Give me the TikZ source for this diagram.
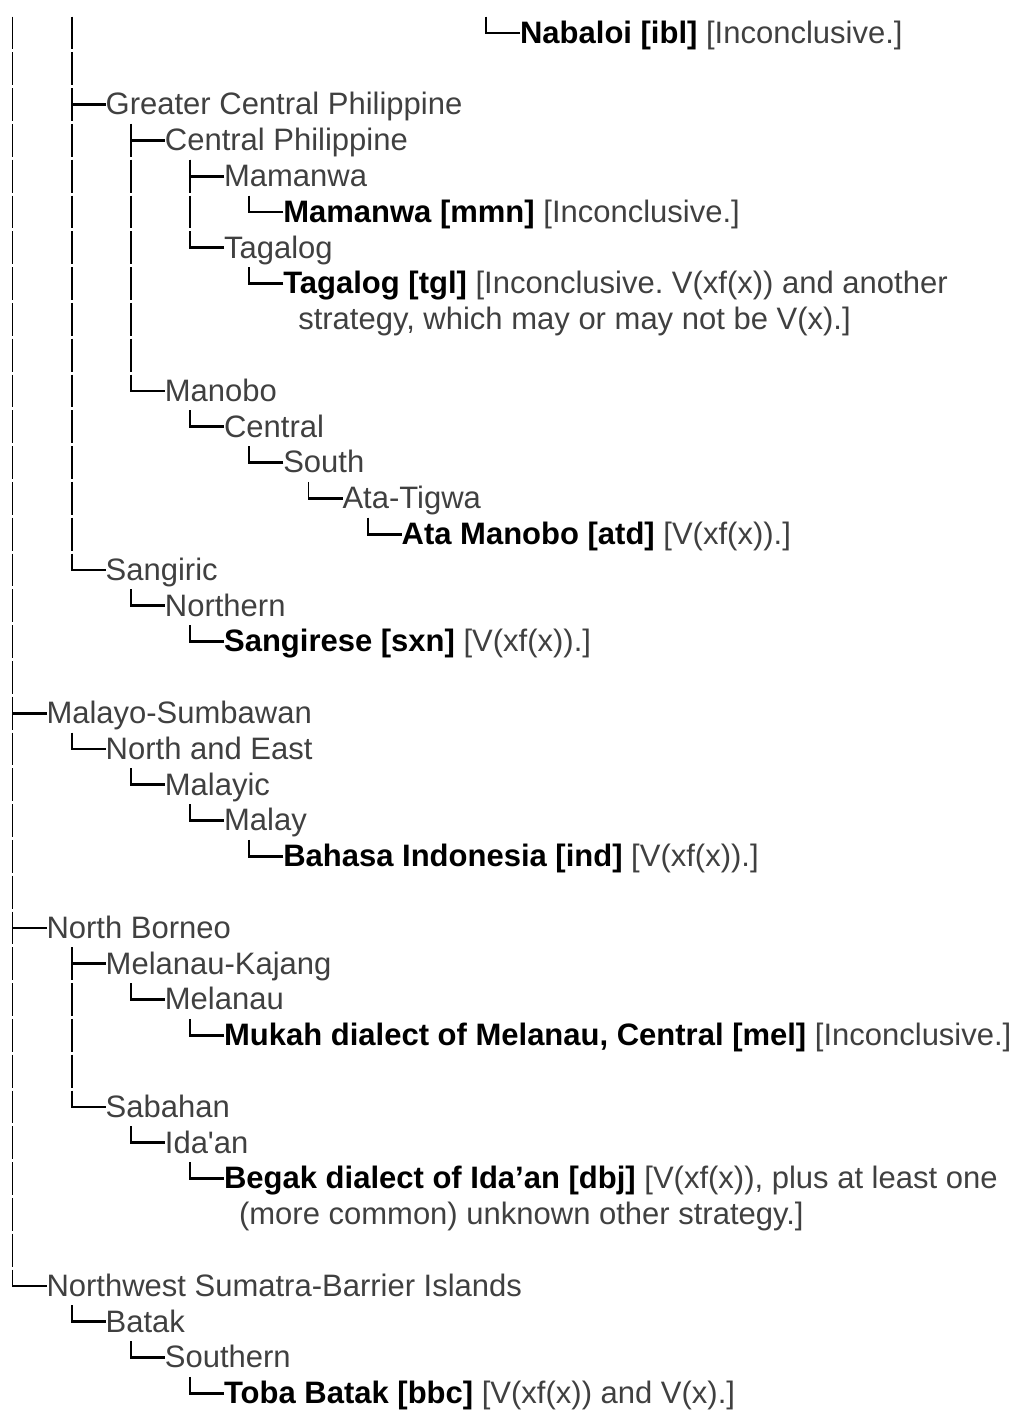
\documentclass[tikz,border=0pt]{standalone}
\usepackage{fontspec}
\setmainfont{Liberation Sans}
\frenchspacing
\begin{document}
\begin{tikzpicture}[x=1pt,y=-1pt]
\tikzset{
  tnode/.style={anchor=north west, inner sep=0pt, outer sep=0pt,
    text height=28.3pt, text depth=7.5pt,
    font=\fontsize{31}{35.8}\selectfont, text=black!75},
  vline/.style={draw=black, line width=1.9pt, dash pattern=on 32.8pt off 3pt},
  hline/.style={draw=black, line width=2.8pt},
}
% column d sits at x = 12.5 + 59.2 d, row r starts at y = 15 + 35.8 r
\newcommand\tn[4]{\node[tnode] (#1) at ({12.5+59.2*#2+34},{15+35.8*#3}) {#4};}
\newcommand\lang[1]{\textcolor{black}{\bfseries #1}}
\newcommand\hb[1]{\draw[hline] (#1.west) -- ++(-35,0);}
\newcommand\br[2]{%
  \draw[vline] (#1.south west) ++(25.2,1.5) coordinate (v) -- (v |- #2.west);
  \hb{#2}}

\useasboundingbox (0,0) rectangle (1016,1417);

% ---- nodes ----
\tn{nab}{8}{0}{\lang{Nabaloi [ibl]} [Inconclusive.]}
\tn{gcp}{1}{2}{Greater Central Philippine}
\tn{cp}{2}{3}{Central Philippine}
\tn{mam}{3}{4}{Mamanwa}
\tn{mmn}{4}{5}{\lang{Mamanwa [mmn]} [Inconclusive.]}
\tn{tag}{3}{6}{Tagalog}
\tn{tgl}{4}{7}{\lang{Tagalog [tgl]} [Inconclusive. V(xf(x)) and another}
\node[tnode] (tglc) at ([xshift=15pt]tgl.south west) {strategy, which may or may not be V(x).]};
\tn{man}{2}{10}{Manobo}
\tn{cen}{3}{11}{Central}
\tn{sou}{4}{12}{South}
\tn{ata}{5}{13}{Ata-Tigwa}
\tn{atd}{6}{14}{\lang{Ata Manobo [atd]} [V(xf(x)).]}
\tn{sang}{1}{15}{Sangiric}
\tn{nor}{2}{16}{Northern}
\tn{sxn}{3}{17}{\lang{Sangirese [sxn]} [V(xf(x)).]}
\tn{msb}{0}{19}{Malayo-Sumbawan}
\tn{nae}{1}{20}{North and East}
\tn{mlc}{2}{21}{Malayic}
\tn{mly}{3}{22}{Malay}
\tn{ind}{4}{23}{\lang{Bahasa Indonesia [ind]} [V(xf(x)).]}
\tn{nb}{0}{25}{North Borneo}
\tn{mk}{1}{26}{Melanau-Kajang}
\tn{mel}{2}{27}{Melanau}
\tn{muk}{3}{28}{\lang{Mukah dialect of Melanau, Central [mel]} [Inconclusive.]}
\tn{sab}{1}{30}{Sabahan}
\tn{ida}{2}{31}{Ida\textquotesingle an}
\tn{dbj}{3}{32}{\lang{Begak dialect of Ida’an [dbj]} [V(xf(x)), plus at least one}
\node[tnode] (dbjc) at ([xshift=15pt]dbj.south west) {(more common) unknown other strategy.]};
\tn{nwsb}{0}{35}{Northwest Sumatra-Barrier Islands}
\tn{bat}{1}{36}{Batak}
\tn{sth}{2}{37}{Southern}
\tn{bbc}{3}{38}{\lang{Toba Batak [bbc]} [V(xf(x)) and V(x).]}

% ---- branches continuing from above ----
\coordinate (topA) at (12.5,16.5);
\coordinate (topB) at (71.7,16.5);
\coordinate (topC) at (486.1,16.5);
\draw[vline] (topA) -- (topA |- nwsb.west);
\draw[vline] (topB) -- (topB |- sang.west);
\draw[vline] (topC) -- (topC |- nab.west);
\hb{nab} \hb{gcp} \hb{sang} \hb{msb} \hb{nb} \hb{nwsb}

% ---- branches ----
\br{gcp}{cp} \br{gcp}{man}
\br{cp}{mam} \br{cp}{tag}
\br{mam}{mmn}
\br{tag}{tgl}
\br{man}{cen} \br{cen}{sou} \br{sou}{ata} \br{ata}{atd}
\br{sang}{nor} \br{nor}{sxn}
\br{msb}{nae} \br{nae}{mlc} \br{mlc}{mly} \br{mly}{ind}
\br{nb}{mk} \br{nb}{sab}
\br{mk}{mel} \br{mel}{muk}
\br{sab}{ida} \br{ida}{dbj}
\br{nwsb}{bat} \br{bat}{sth} \br{sth}{bbc}
\end{tikzpicture}
\end{document}
